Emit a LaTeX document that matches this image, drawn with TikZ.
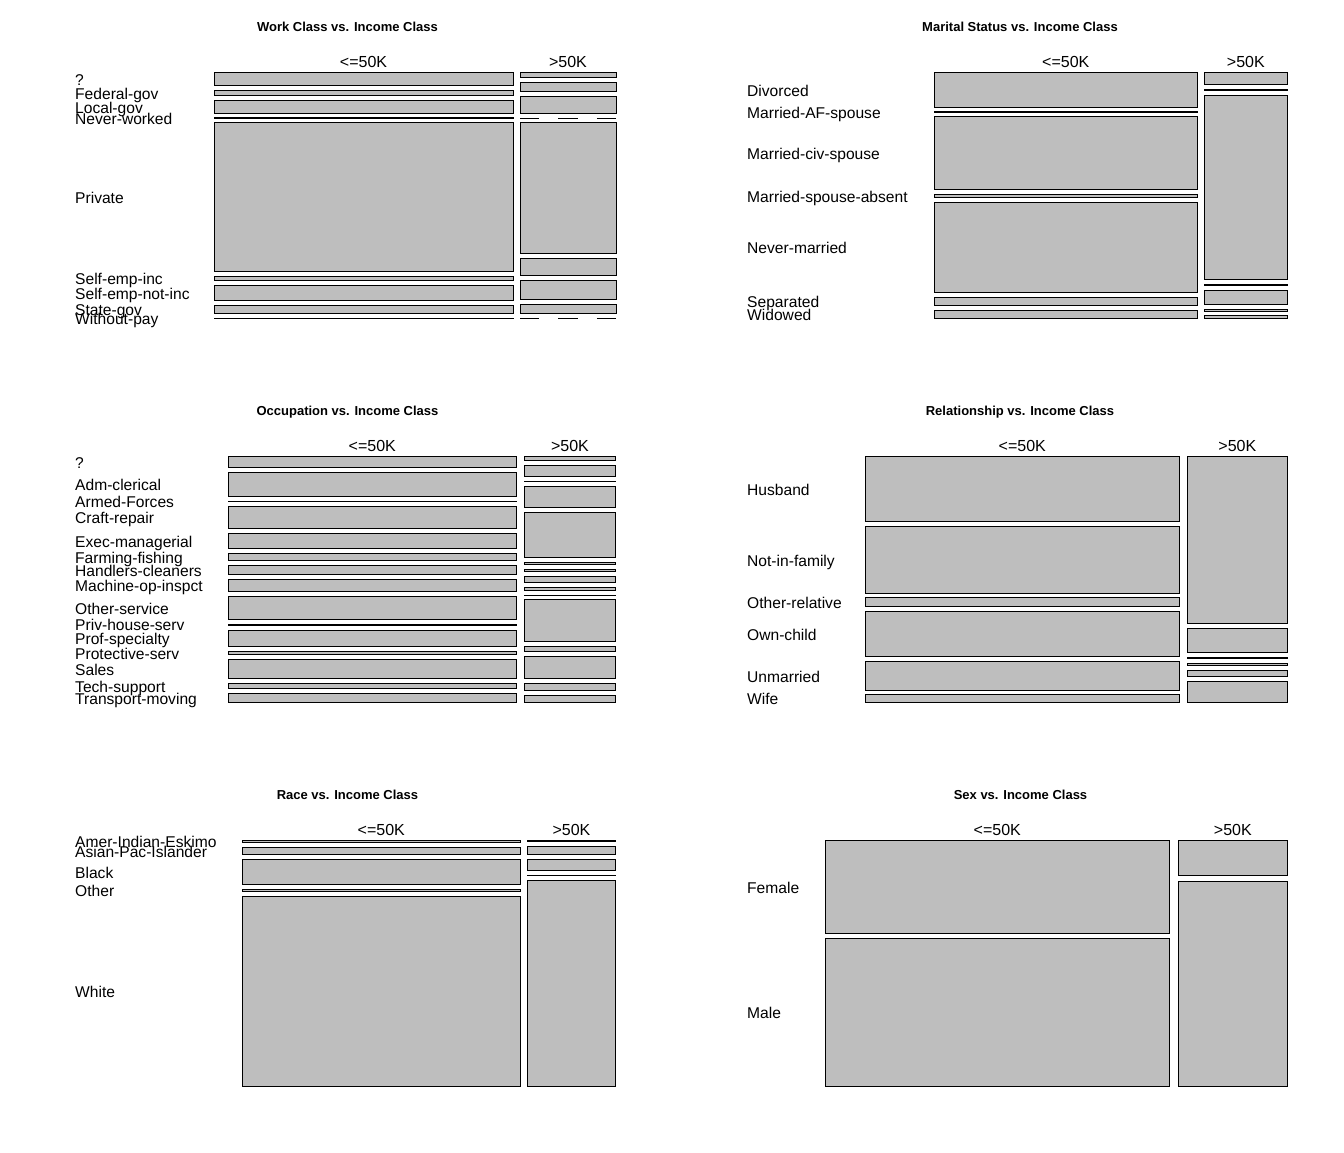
\documentclass[tikz,border=0pt]{standalone}
\usepackage{fontspec}
\setmainfont{Liberation Sans}
\definecolor{cellgray}{HTML}{BEBEBE}
\newcommand\mcell[4]{\draw[cellbox] (#1,#2) rectangle (#3,#4);}
\newcommand\mzero[3]{\draw[zeroline] (#1,#3) -- (#2,#3);}
\newcommand\mlab[4]{\node[lab] (#1) at (#2,{#3+6.2}) {#4};}
\begin{document}
\begin{tikzpicture}[x=1pt,y=-1pt,
  cellbox/.style={draw=black,fill=cellgray,line width=1pt},
  zeroline/.style={draw=black,line width=1pt,dash pattern=on 19.2pt off 19.2pt},
  lab/.style={anchor=base west,inner sep=0pt,font=\fontsize{15.6}{19}\selectfont},
  colhead/.style={anchor=base,inner sep=0pt,font=\fontsize{16}{19}\selectfont},
  ptitle/.style={anchor=base,inner sep=0pt,font=\bfseries\fontsize{13}{15}\selectfont}]
\fill[white] (0,0) rectangle (1344,1152);
\useasboundingbox (0,0) rectangle (1344,1152);

% ---------- Panel 1: Work Class ----------
\node[ptitle] (t1) at (347.5,31.7) {Work Class vs. Income Class};
\node[colhead] (h1a) at (363.5,67.3) {<=50K};
\node[colhead] (h1b) at (568,67.3) {>50K};
\mcell{214}{72.3}{513}{85.3}
\mcell{214}{90.3}{513}{95.3}
\mcell{214}{100.3}{513}{113.3}
\mcell{214}{117.8}{513}{118.4}
\mcell{214}{122.3}{513}{271.3}
\mcell{214}{276.3}{513}{280.3}
\mcell{214}{285.3}{513}{300.3}
\mcell{214}{305.3}{513}{313.3}
\mcell{214}{318.1}{513}{318.4}
\mcell{520}{72.3}{616}{77.3}
\mcell{520}{82.3}{616}{91.3}
\mcell{520}{96.3}{616}{113.3}
\mzero{520}{616}{118.3}
\mcell{520}{122.3}{616}{253.3}
\mcell{520}{258.3}{616}{275.7}
\mcell{520}{280.3}{616}{299.3}
\mcell{520}{304.3}{616}{313.3}
\mzero{520}{616}{318.3}
\mlab{w1}{75}{78.8}{?}
\mlab{w2}{75}{92.8}{Federal-gov}
\mlab{w3}{75}{106.8}{Local-gov}
\mlab{w4}{75}{118.1}{Never-worked}
\mlab{w5}{75}{196.8}{Private}
\mlab{w6}{75}{278.3}{Self-emp-inc}
\mlab{w7}{75}{292.8}{Self-emp-not-inc}
\mlab{w8}{75}{309.3}{State-gov}
\mlab{w9}{75}{318.2}{Without-pay}

% ---------- Panel 2: Marital Status ----------
\node[ptitle] (t2) at (1020,31.7) {Marital Status vs. Income Class};
\node[colhead] (h2a) at (1065.8,67.3) {<=50K};
\node[colhead] (h2b) at (1245.8,67.3) {>50K};
\mcell{934.3}{72.3}{1197.3}{107.3}
\mcell{934.3}{111.4}{1197.3}{112.0}
\mcell{934.3}{116.3}{1197.3}{189.3}
\mcell{934.3}{194.3}{1197.3}{197.3}
\mcell{934.3}{202.3}{1197.3}{292.3}
\mcell{934.3}{297.3}{1197.3}{305.3}
\mcell{934.3}{310.3}{1197.3}{318.3}
\mcell{1204.3}{72.3}{1287.3}{84.3}
\mcell{1204.3}{89.5}{1287.3}{90.1}
\mcell{1204.3}{95.3}{1287.3}{279.3}
\mcell{1204.3}{284.5}{1287.3}{285.1}
\mcell{1204.3}{290.3}{1287.3}{304.3}
\mcell{1204.3}{309.3}{1287.3}{311.3}
\mcell{1204.3}{315.3}{1287.3}{318.3}
\mlab{m1}{747}{89.8}{Divorced}
\mlab{m2}{747}{111.8}{Married-AF-spouse}
\mlab{m3}{747}{152.8}{Married-civ-spouse}
\mlab{m4}{747}{195.8}{Married-spouse-absent}
\mlab{m5}{747}{247.3}{Never-married}
\mlab{m6}{747}{301.3}{Separated}
\mlab{m7}{747}{314.3}{Widowed}

% ---------- Panel 3: Occupation ----------
\node[ptitle] (t3) at (347.5,415.7) {Occupation vs. Income Class};
\node[colhead] (h3a) at (372.3,451.3) {<=50K};
\node[colhead] (h3b) at (570,451.3) {>50K};
\mcell{228.3}{456.3}{516.3}{467.3}
\mcell{228.3}{472.3}{516.3}{496.3}
\mcell{228.3}{501.1}{516.3}{501.5}
\mcell{228.3}{506.3}{516.3}{528.3}
\mcell{228.3}{533.3}{516.3}{548.3}
\mcell{228.3}{553.3}{516.3}{560.3}
\mcell{228.3}{565.3}{516.3}{574.3}
\mcell{228.3}{579.3}{516.3}{591.3}
\mcell{228.3}{596.3}{516.3}{619.3}
\mcell{228.3}{624.4}{516.3}{625.0}
\mcell{228.3}{630.3}{516.3}{646.3}
\mcell{228.3}{651.3}{516.3}{654.3}
\mcell{228.3}{659.3}{516.3}{678.3}
\mcell{228.3}{683.3}{516.3}{688.3}
\mcell{228.3}{693.3}{516.3}{702.3}
\mcell{524.3}{456.3}{615.7}{460.3}
\mcell{524.3}{465.3}{615.7}{476.3}
\mcell{524.3}{481.1}{615.7}{481.4}
\mcell{524.3}{486.3}{615.7}{507.3}
\mcell{524.3}{512.3}{615.7}{557.3}
\mcell{524.3}{562.3}{615.7}{564.3}
\mcell{524.3}{569.3}{615.7}{571.3}
\mcell{524.3}{576.3}{615.7}{582.3}
\mcell{524.3}{587.3}{615.7}{590.3}
\mcell{524.3}{595.1}{615.7}{595.4}
\mcell{524.3}{599.3}{615.7}{641.3}
\mcell{524.3}{646.3}{615.7}{651.3}
\mcell{524.3}{656.3}{615.7}{678.3}
\mcell{524.3}{683.3}{615.7}{690.3}
\mcell{524.3}{695.3}{615.7}{702.3}
\mlab{o1}{75}{461.8}{?}
\mlab{o2}{75}{484.3}{Adm-clerical}
\mlab{o3}{75}{501.3}{Armed-Forces}
\mlab{o4}{75}{517.3}{Craft-repair}
\mlab{o5}{75}{540.8}{Exec-managerial}
\mlab{o6}{75}{556.8}{Farming-fishing}
\mlab{o7}{75}{569.8}{Handlers-cleaners}
\mlab{o8}{75}{585.3}{Machine-op-inspct}
\mlab{o9}{75}{607.8}{Other-service}
\mlab{o10}{75}{624.7}{Priv-house-serv}
\mlab{o11}{75}{638.3}{Prof-specialty}
\mlab{o12}{75}{652.8}{Protective-serv}
\mlab{o13}{75}{668.8}{Sales}
\mlab{o14}{75}{685.8}{Tech-support}
\mlab{o15}{75}{697.8}{Transport-moving}

% ---------- Panel 4: Relationship ----------
\node[ptitle] (t4) at (1020,415.7) {Relationship vs. Income Class};
\node[colhead] (h4a) at (1022.3,451.3) {<=50K};
\node[colhead] (h4b) at (1237.3,451.3) {>50K};
\mcell{865.3}{456.3}{1179.3}{521.3}
\mcell{865.3}{526.3}{1179.3}{593.3}
\mcell{865.3}{597.3}{1179.3}{606.3}
\mcell{865.3}{611.3}{1179.3}{656.3}
\mcell{865.3}{661.3}{1179.3}{690.3}
\mcell{865.3}{694.3}{1179.3}{702.3}
\mcell{1187.3}{456.3}{1287.3}{623.3}
\mcell{1187.3}{628.3}{1287.3}{652.3}
\mcell{1187.3}{657.6}{1287.3}{658.2}
\mcell{1187.3}{663.3}{1287.3}{665.3}
\mcell{1187.3}{670.3}{1287.3}{676.3}
\mcell{1187.3}{681.3}{1287.3}{702.3}
\mlab{r1}{747}{488.8}{Husband}
\mlab{r2}{747}{559.8}{Not-in-family}
\mlab{r3}{747}{601.8}{Other-relative}
\mlab{r4}{747}{633.8}{Own-child}
\mlab{r5}{747}{675.8}{Unmarried}
\mlab{r6}{747}{698.3}{Wife}

% ---------- Panel 5: Race ----------
\node[ptitle] (t5) at (347.5,799.7) {Race vs. Income Class};
\node[colhead] (h5a) at (381.3,835.3) {<=50K};
\node[colhead] (h5b) at (571.5,835.3) {>50K};
\mcell{242.3}{840.3}{520.3}{842.0}
\mcell{242.3}{847.3}{520.3}{854.3}
\mcell{242.3}{859.3}{520.3}{884.3}
\mcell{242.3}{889.3}{520.3}{891.3}
\mcell{242.3}{896.3}{520.3}{1086.3}
\mcell{527.3}{840.6}{615.7}{841.2}
\mcell{527.3}{846.3}{615.7}{854.3}
\mcell{527.3}{859.3}{615.7}{870.3}
\mcell{527.3}{875.1}{615.7}{875.4}
\mcell{527.3}{880.3}{615.7}{1086.3}
\mlab{a1}{75}{841.2}{Amer-Indian-Eskimo}
\mlab{a2}{75}{850.8}{Asian-Pac-Islander}
\mlab{a3}{75}{871.8}{Black}
\mlab{a4}{75}{890.3}{Other}
\mlab{a5}{75}{991.3}{White}

% ---------- Panel 6: Sex ----------
\node[ptitle] (t6) at (1020.5,799.7) {Sex vs. Income Class};
\node[colhead] (h6a) at (997.3,835.3) {<=50K};
\node[colhead] (h6b) at (1232.8,835.3) {>50K};
\mcell{825.3}{840.3}{1169.3}{933.3}
\mcell{825.3}{938.3}{1169.3}{1086.3}
\mcell{1178.3}{840.3}{1287.3}{875.7}
\mcell{1178.3}{881.3}{1287.3}{1086.3}
\mlab{s1}{747}{886.8}{Female}
\mlab{s2}{747}{1012.3}{Male}
\end{tikzpicture}
\end{document}
